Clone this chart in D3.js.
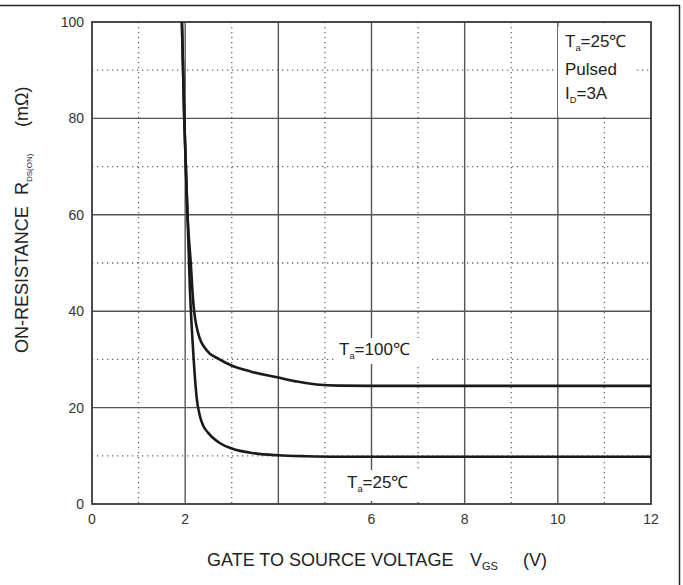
<!DOCTYPE html>
<html>
<head>
<meta charset="utf-8">
<script src="https://cdn.jsdelivr.net/npm/d3@7"></script>
<style>
  body { margin: 0; background: #fff; }
  svg { display: block; font-family: "Liberation Sans", Arial, sans-serif; }
</style>
</head>
<body>
<svg id="chart" width="683" height="585"></svg>
<script>
// R_DS(on) vs V_GS
const vgs25 = [1.93, 1.98, 2.05, 2.10, 2.17, 2.25, 2.32, 2.38, 2.5, 2.75, 3.0, 3.5, 4.0, 4.6, 5.3, 6.0, 8.0, 10.0, 12.0];
const rds25 = [100, 80, 60, 45, 32, 21.8, 18.1, 16.4, 14.7, 12.6, 11.5, 10.5, 10.1, 9.9, 9.8, 9.8, 9.8, 9.8, 9.8];
const vgs100 = [1.93, 1.98, 2.05, 2.12, 2.17, 2.28, 2.46, 2.7, 2.96, 3.4, 3.97, 4.4, 4.82, 5.3, 6.0, 8.0, 10.0, 12.0];
const rds100 = [100, 80, 60, 50, 42.3, 35.4, 31.9, 30.2, 28.9, 27.5, 26.3, 25.4, 24.8, 24.55, 24.5, 24.5, 24.5, 24.5];

const xMajor = [0, 2, 4, 6, 8, 10, 12];
const xMinor = [1, 3, 5, 7, 9, 11];
const yMajor = [0, 20, 40, 60, 80, 100];
const yMinor = [10, 30, 50, 70, 90];
const xTickLabels = [0, 2, 6, 8, 10, 12];   // "4" is missing on the original
const yTickLabels = [0, 20, 40, 60, 80, 100];

const plotLeft = 92, plotTop = 22, plotRight = 651, plotBottom = 504;

const svg = d3.select("#chart");

const x = d3.scaleLinear().domain([0, 12]).range([plotLeft, plotRight]);
const y = d3.scaleLinear().domain([0, 100]).range([plotBottom, plotTop]);

// outer frame of the cropped datasheet
svg.append("line").attr("x1", 0).attr("x2", 680).attr("y1", 5.5).attr("y2", 5.5)
    .attr("stroke", "#222").attr("stroke-width", 1.5);
svg.append("line").attr("x1", 679.5).attr("x2", 679.5).attr("y1", 5).attr("y2", 585)
    .attr("stroke", "#222").attr("stroke-width", 1.5);

// dotted grid
svg.append("g").selectAll("line").data(xMinor).enter().append("line")
    .attr("x1", d => x(d)).attr("x2", d => x(d))
    .attr("y1", plotTop).attr("y2", plotBottom)
    .attr("stroke", "#666").attr("stroke-width", 1.3)
    .attr("stroke-dasharray", "1.3,3.7");
svg.append("g").selectAll("line").data(yMinor).enter().append("line")
    .attr("x1", plotLeft).attr("x2", plotRight)
    .attr("y1", d => y(d)).attr("y2", d => y(d))
    .attr("stroke", "#666").attr("stroke-width", 1.3)
    .attr("stroke-dasharray", "1.3,3.7");

// solid grid
svg.append("g").selectAll("line").data(xMajor).enter().append("line")
    .attr("x1", d => x(d)).attr("x2", d => x(d))
    .attr("y1", plotTop).attr("y2", plotBottom)
    .attr("stroke", "#555").attr("stroke-width", 1.4);
svg.append("g").selectAll("line").data(yMajor).enter().append("line")
    .attr("x1", plotLeft).attr("x2", plotRight)
    .attr("y1", d => y(d)).attr("y2", d => y(d))
    .attr("stroke", "#555").attr("stroke-width", 1.4);

// plot frame
svg.append("rect")
    .attr("x", plotLeft).attr("y", plotTop)
    .attr("width", plotRight - plotLeft).attr("height", plotBottom - plotTop)
    .attr("fill", "none").attr("stroke", "#444").attr("stroke-width", 1.8);

// tick labels
svg.append("g").selectAll("text").data(yTickLabels).enter().append("text")
    .attr("x", 84).attr("y", d => y(d) + 5)
    .attr("text-anchor", "end")
    .style("font-size", "14px").style("fill", "#333")
    .text(d => d);
svg.append("g").selectAll("text").data(xTickLabels).enter().append("text")
    .attr("x", d => x(d)).attr("y", 524)
    .attr("text-anchor", "middle")
    .style("font-size", "14px").style("fill", "#333")
    .text(d => d);

// label with a subscript: parts = [[text, isSub], ...]
function subLabel(g, px, py, parts, size, subSize) {
    subSize = subSize || size * 0.55;
    const t = g.append("text").attr("x", px).attr("y", py)
        .style("font-size", size + "px").style("fill", "#222");
    let shifted = false;
    parts.forEach(([s, sub]) => {
        const span = t.append("tspan").text(s);
        if (sub && !shifted) { span.attr("dy", 4).style("font-size", subSize + "px"); shifted = true; }
        else if (sub) { span.style("font-size", subSize + "px"); }
        else if (shifted) { span.attr("dy", -4); shifted = false; }
    });
    return t;
}

// curves
const line = d3.line()
    .x(d => x(d[0]))
    .y(d => y(d[1]))
    .curve(d3.curveMonotoneX);

svg.append("clipPath").attr("id", "plot-clip")
    .append("rect").attr("x", plotLeft).attr("y", plotTop)
    .attr("width", plotRight - plotLeft).attr("height", plotBottom - plotTop);

const curves = svg.append("g").attr("clip-path", "url(#plot-clip)");
curves.append("path")
    .datum(d3.zip(vgs25, rds25))
    .attr("d", line)
    .attr("fill", "none").attr("stroke", "#1a1a1a").attr("stroke-width", 2.6);
curves.append("path")
    .datum(d3.zip(vgs100, rds100))
    .attr("d", line)
    .attr("fill", "none").attr("stroke", "#1a1a1a").attr("stroke-width", 2.6);

// annotation boxes (white backgrounds hide the grid)
const notes = svg.append("g");
notes.append("rect").attr("x", 558).attr("y", 27).attr("width", 78).attr("height", 90).attr("fill", "#fff");
notes.append("rect").attr("x", 336).attr("y", 338).attr("width", 96).attr("height", 26).attr("fill", "#fff");
notes.append("rect").attr("x", 340).attr("y", 470).attr("width", 82).attr("height", 31).attr("fill", "#fff");

subLabel(notes, 565, 47, [["T"], ["a", true], ["=25℃"]], 17);
notes.append("text").attr("x", 565).attr("y", 75)
    .style("font-size", "17px").style("fill", "#222").text("Pulsed");
subLabel(notes, 565, 99, [["I"], ["D", true], ["=3A"]], 17);

subLabel(notes, 339, 355, [["T"], ["a", true], ["=100℃"]], 17);
subLabel(notes, 347, 488, [["T"], ["a", true], ["=25℃"]], 17);

// x axis title
svg.append("text").attr("x", 207).attr("y", 566)
    .style("font-size", "18px").style("fill", "#222").text("GATE TO SOURCE VOLTAGE");
subLabel(svg, 470, 566, [["V"], ["GS", true]], 18, 11);
svg.append("text").attr("x", 523).attr("y", 566)
    .style("font-size", "18px").style("fill", "#222").text("(V)");

// y axis title
const yTitle = svg.append("g").attr("transform", "translate(28, 353) rotate(-90)");
yTitle.append("text").attr("x", 0).attr("y", 0)
    .style("font-size", "18px").style("fill", "#222").text("ON-RESISTANCE");
subLabel(yTitle, 158, 0, [["R"], ["DS(ON)", true]], 18, 8);
yTitle.append("text").attr("x", 226).attr("y", 0)
    .style("font-size", "18px").style("fill", "#222").text("(mΩ)");
</script>
</body>
</html>
